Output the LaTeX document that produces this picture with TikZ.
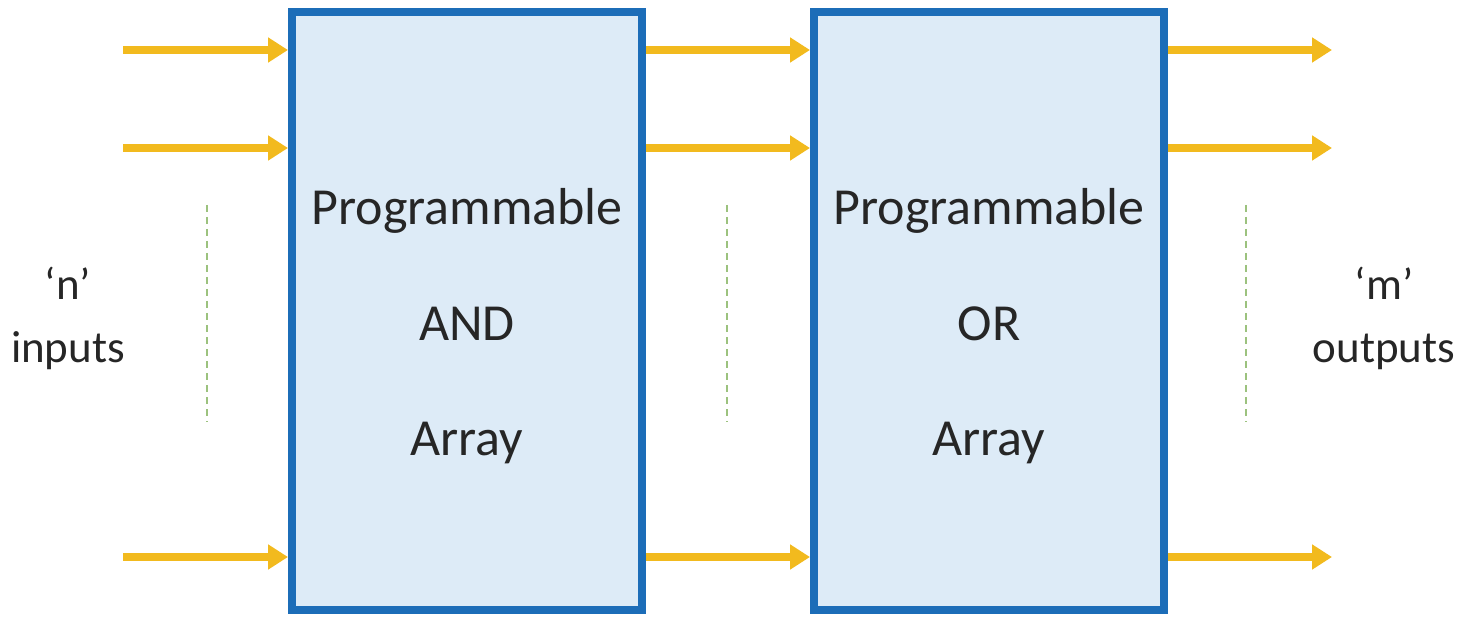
\documentclass[tikz,border=0pt]{standalone}
\usepackage{fontspec}
\setmainfont{Carlito}
\usetikzlibrary{arrows.meta}
\definecolor{boxblue}{HTML}{1C6DB8}
\definecolor{boxfill}{HTML}{DDEBF7}
\definecolor{wire}{HTML}{F2BA1E}
\definecolor{dots}{HTML}{9CC27E}
\definecolor{ink}{HTML}{262626}
\begin{document}
\begin{tikzpicture}[x=1pt,y=-1pt,
    array/.style={draw=boxblue,fill=boxfill,line width=8pt,minimum width=350pt,minimum height=598pt,inner sep=0pt},
    wire/.style={draw=wire,line width=8pt,-{Triangle[length=20pt,width=24pt]}},
    gap/.style={draw=dots,line width=2.5pt,dash pattern=on 7pt off 5pt},
    big/.style={text=ink,font=\fontsize{52}{60}\selectfont,anchor=base},
    side/.style={text=ink,font=\fontsize{45}{52}\selectfont,anchor=base}]
    \useasboundingbox (0,0) rectangle (1467,620);
    % the two arrays
    \path (467,311) node[array] (and) {};
    \path (989,311) node[array] (or) {};
    \node[big] (and1) at (467,225) {Programmable};
    \node[big] (and2) at (467,341) {AND};
    \node[big] (and3) at (467,455) {Array};
    \node[big] (or1) at (989,225) {Programmable};
    \node[big] (or2) at (989,341) {OR};
    \node[big] (or3) at (989,455) {Array};
    % free ends
    \coordinate (i1) at (123,50);
    \coordinate (i2) at (123,148);
    \coordinate (i3) at (123,557);
    \coordinate (o1) at (1332,50);
    \coordinate (o2) at (1332,148);
    \coordinate (o3) at (1332,557);
    % wires
    \draw [wire] (i1) -- (and.west |- i1);
    \draw [wire] (i2) -- (and.west |- i2);
    \draw [wire] (i3) -- (and.west |- i3);
    \draw [wire] (and.east |- i1) -- (or.west |- i1);
    \draw [wire] (and.east |- i2) -- (or.west |- i2);
    \draw [wire] (and.east |- i3) -- (or.west |- i3);
    \draw [wire] (or.east |- o1) -- (o1);
    \draw [wire] (or.east |- o2) -- (o2);
    \draw [wire] (or.east |- o3) -- (o3);
    % dashed gaps
    \coordinate (g1) at (207,205);
    \coordinate (h1) at (207,422);
    \coordinate (g2) at (727,205);
    \coordinate (h2) at (727,422);
    \coordinate (g3) at (1246,205);
    \coordinate (h3) at (1246,422);
    \draw [gap] (g1) -- (h1);
    \draw [gap] (g2) -- (h2);
    \draw [gap] (g3) -- (h3);
    % labels
    \node[side] (n) at (68,300) {‘n’};
    \node[side] (nin) at (68,362) {inputs};
    \node[side] (m) at (1384,300) {‘m’};
    \node[side] (mout) at (1384,362) {outputs};
\end{tikzpicture}
\end{document}
